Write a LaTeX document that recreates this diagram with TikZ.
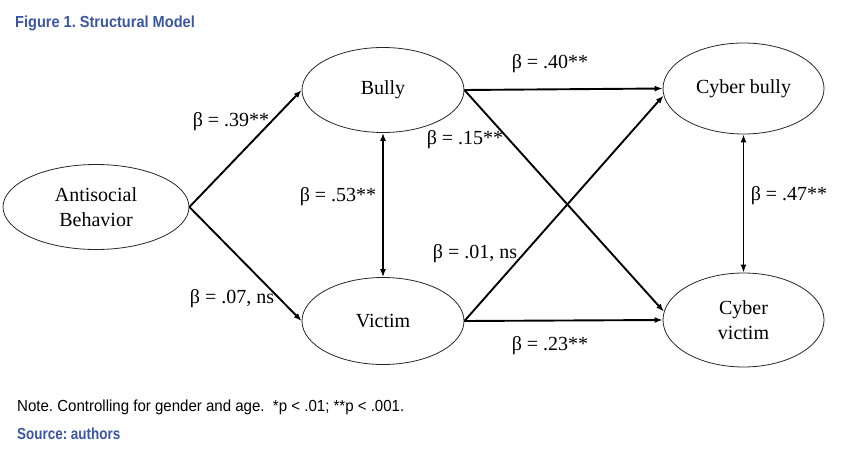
\documentclass[tikz,border=0pt]{standalone}
\usepackage{fontspec}
\setmainfont{Liberation Serif}
\newfontfamily\notefont[FakeStretch=0.94]{Liberation Sans}
\newfontfamily\titlefont[FakeStretch=0.91]{Liberation Sans}
\newfontfamily\sourcefont[FakeStretch=0.84]{Liberation Sans}
\usetikzlibrary{shapes.geometric,arrows.meta}
\definecolor{capblue}{RGB}{58,86,162}
\begin{document}
\frenchspacing
\begin{tikzpicture}[x=1pt,y=-1pt,
  latent/.style={draw=black!85,line width=0.8pt,ellipse,inner sep=0pt,align=center,font=\fontsize{20}{25}\selectfont},
  path/.style={line width=1.9pt,-{Latex[length=8pt,width=6pt]}},
  biarrow/.style={line width=1.9pt,{Latex[length=8pt,width=6pt]}-{Latex[length=8pt,width=6pt]}},
  coef/.style={inner sep=0pt,font=\fontsize{20}{24}\selectfont},
  capt/.style={anchor=base west,inner sep=0pt}]
\useasboundingbox (0,0) rectangle (850,457);
% title
\node[capt,text=capblue,font=\titlefont\bfseries\fontsize{16}{19}\selectfont] (title) at (15,27.5) {Figure 1. Structural Model};
% latent variables
\node[latent,minimum width=186pt,minimum height=85pt] (anti) at (96,207) {Antisocial\\Behavior};
\node[latent,minimum width=162pt,minimum height=85pt] (bully) at (383,90) {Bully};
\node[latent,minimum width=162pt,minimum height=87pt] (victim) at (383,321) {Victim};
\node[latent,minimum width=161pt,minimum height=91pt] (cbully) at (743.5,88.5) {Cyber bully};
\node[latent,minimum width=161pt,minimum height=94pt] (cvictim) at (743.5,320) {Cyber\\victim};
% paths
\draw[path] (anti.east) -- (bully.west);
\draw[path] (anti.east) -- (victim.west);
\draw[biarrow] (bully.south) -- (victim.north);
\draw[path] (bully.east) -- (cbully.west);
\draw[path] (bully.east) -- (cvictim.174);
\draw[path] (victim.east) -- (cbully.185);
\draw[path] (victim.east) -- (cvictim.west);
\draw[biarrow] (cbully.south) -- (cvictim.north);
% coefficients
\node[coef] (c39) at (231,122) {β = .39**};
\node[coef] (c07) at (232,299) {β = .07, ns};
\node[coef] (c53) at (338,197) {β = .53**};
\node[coef] (c40) at (550,64) {β = .40**};
\node[coef] (c15) at (465,140) {β = .15**};
\node[coef] (c01) at (475,254) {β = .01, ns};
\node[coef] (c23) at (550,346) {β = .23**};
\node[coef] (c47) at (789,196) {β = .47**};
% notes
\node[capt,font=\notefont\fontsize{16}{19}\selectfont] (note) at (17,411) {Note. Controlling for gender and age.\ \ *p < .01; **p < .001.};
\node[capt,text=capblue,font=\sourcefont\bfseries\fontsize{16}{19}\selectfont] (source) at (17,439) {Source: authors};
\end{tikzpicture}
\end{document}
